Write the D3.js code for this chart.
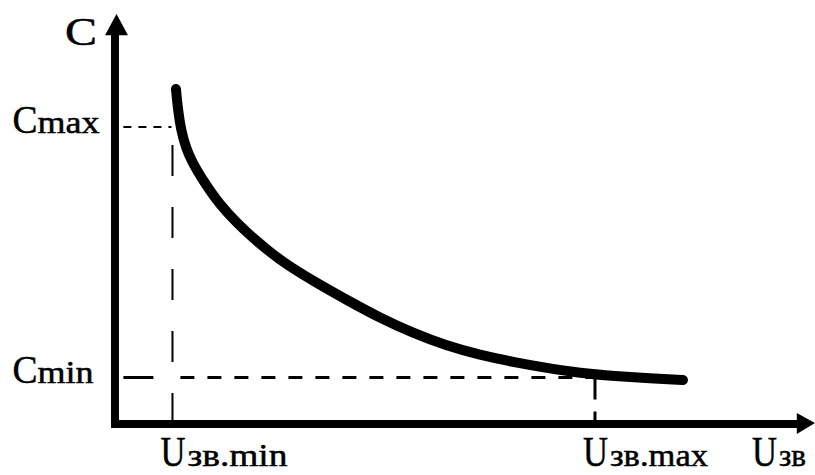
<!DOCTYPE html>
<html><head><meta charset="utf-8">
<script src="https://cdn.jsdelivr.net/npm/d3@7/dist/d3.min.js"></script>
<style>html,body{margin:0;padding:0;background:#fff;overflow:hidden}svg{display:block}</style>
</head><body>
<svg id="chart" width="815" height="475"></svg>
<script>
// Curve C(U) in arbitrary units (x: 0..100, y: 0..100)
const curveU = [8.71, 9.0, 9.43, 10.14, 11.0, 12.71, 15.0, 17.43, 19.71, 22.14, 24.57, 29.29, 33.14, 37.86, 42.57, 47.43, 52.14, 56.86, 61.71, 66.43, 71.43, 76.43, 81.14];
const curveC = [83.75, 78.5, 73.5, 69, 65.5, 60.5, 54.75, 50.25, 46.5, 43, 39.75, 34.75, 31, 26.5, 22.75, 19.5, 17.25, 15.5, 14, 12.75, 12, 11.4, 11];
// Reference levels
const refNames = ["Umin", "Umax", "Cmax", "Cmin"];
const refValues = [8.21, 68.57, 74.25, 11.6];
// Labels
const yAxisLabel = "C";
const yTickMain = ["C", "C"];
const yTickSub = ["max", "min"];
const xTickMain = ["U", "U", "U"];
const xTickSub = ["зв.min", "зв.max", "зв"];

const ref = Object.fromEntries(refNames.map((n, i) => [n, refValues[i]]));
const svg = d3.select("#chart");
const x = d3.scaleLinear().domain([0, 100]).range([115, 815]);
const y = d3.scaleLinear().domain([0, 100]).range([424, 24]);
const FONT = "'Liberation Serif', 'Times New Roman', serif";

// Axes
svg.append("line").attr("x1", x(0)).attr("x2", x(0)).attr("y1", y(0) + 4).attr("y2", y(97.5))
  .attr("stroke", "#000").attr("stroke-width", 8);
svg.append("path").attr("d", `M${x(0) + 1.5},${y(102.5)} L${x(0) + 13},${y(97.2)} L${x(0) - 10},${y(97.2)} Z`).attr("fill", "#000");
svg.append("line").attr("x1", x(0) - 4).attr("x2", x(97.5)).attr("y1", y(0)).attr("y2", y(0))
  .attr("stroke", "#000").attr("stroke-width", 8);
svg.append("path").attr("d", `M${x(100)},${y(0) - 1} L${x(97.4)},${y(0) - 11} L${x(97.4)},${y(0) + 10} Z`).attr("fill", "#000");

// Dashed reference lines
svg.append("line").attr("x1", x(1.2)).attr("x2", x(ref.Umin) - 1).attr("y1", y(ref.Cmax)).attr("y2", y(ref.Cmax))
  .attr("stroke", "#000").attr("stroke-width", 2).attr("stroke-dasharray", "8,7");
svg.append("line").attr("x1", x(ref.Umin)).attr("x2", x(ref.Umin)).attr("y1", y(69.75)).attr("y2", y(0.5))
  .attr("stroke", "#000").attr("stroke-width", 2).attr("stroke-dasharray", "31,31");
const cminDash = [30, 27].concat(d3.range(20).flatMap(() => [14, 13]));
svg.append("line").attr("x1", x(1.2)).attr("x2", x(ref.Umax)).attr("y1", y(ref.Cmin)).attr("y2", y(ref.Cmin))
  .attr("stroke", "#000").attr("stroke-width", 3).attr("stroke-dasharray", cminDash.join(","));
svg.append("line").attr("x1", x(ref.Umax)).attr("x2", x(ref.Umax)).attr("y1", y(ref.Cmin) - 3).attr("y2", y(0.5))
  .attr("stroke", "#000").attr("stroke-width", 3).attr("stroke-dasharray", "25,12,20");

// Curve
const line = d3.line().x(d => x(d[0])).y(d => y(d[1])).curve(d3.curveBasis);
svg.append("path").datum(curveU.map((u, i) => [u, curveC[i]])).attr("d", line)
  .attr("fill", "none").attr("stroke", "#000").attr("stroke-width", 10).attr("stroke-linecap", "round").attr("stroke-linejoin", "round");

// Labels: one <text> per label, main letter + subscript as tspans
function label(px, py, mainStr, mainSize, mainLen, subStr, subSize, subLen, gap) {
  const t = svg.append("text").attr("x", px).attr("y", py)
    .attr("font-family", FONT).attr("fill", "#000").attr("stroke", "#000").attr("stroke-width", 0.5);
  t.append("tspan").attr("font-size", mainSize).attr("textLength", mainLen).attr("lengthAdjust", "spacingAndGlyphs").text(mainStr);
  if (subStr) t.append("tspan").attr("dx", gap || 0).attr("font-size", subSize).attr("textLength", subLen).attr("lengthAdjust", "spacingAndGlyphs").text(subStr);
  return t;
}
// Y axis title
label(65, 45, yAxisLabel, 40, 32);
// Y ticks (Cmax, Cmin)
[ref.Cmax, ref.Cmin].forEach((v, i) => {
  label(12.5, y(v) + 5.5, yTickMain[i], 40, 25, yTickSub[i], 31, i === 0 ? 62 : 56, 0);
});
// X ticks
const xPos = [ref.Umin, ref.Umax, 92.7];
const subLens = [100, 98, 27];
xPos.forEach((v, i) => {
  label(x(v) - 12, 466, xTickMain[i], 42, 25, xTickSub[i], 31, subLens[i], 2);
});
</script>
</body></html>
